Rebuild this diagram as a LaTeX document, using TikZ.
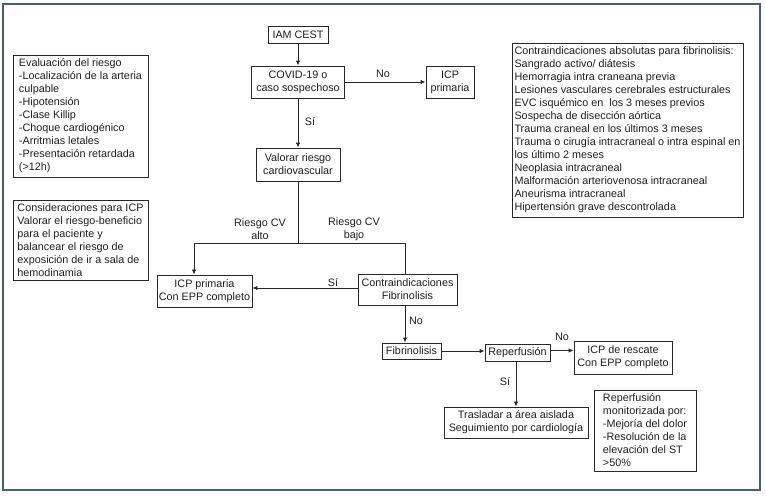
\documentclass[tikz,border=0pt]{standalone}
\usepackage{fontspec}
\setmainfont{Liberation Sans}
\usetikzlibrary{arrows.meta,calc}
\definecolor{framec}{RGB}{70,98,98}
\definecolor{linec}{RGB}{40,40,40}
\definecolor{txtc}{RGB}{30,30,30}
\begin{document}
\begin{tikzpicture}[x=1pt,y=-1pt,
  box/.style={draw=linec,line width=0.9pt,inner sep=0pt,text=txtc,font=\fontsize{10.8}{13}\selectfont,align=center},
  lbl/.style={text=txtc,font=\fontsize{10.8}{13}\selectfont,inner sep=0pt,align=center},
  arr/.style={draw=linec,line width=0.9pt,-{Latex[length=5pt,width=4.5pt]}},
  ln/.style={draw=linec,line width=0.9pt}]
\useasboundingbox (0,0) rectangle (766,496);
\draw[framec,line width=1.6pt] (3,4) rectangle (760,490);

\node[box,minimum width=60pt,minimum height=17pt] (iam) at (298,34.5) {IAM CEST};
\node[box,minimum width=93pt,minimum height=32pt] (covid) at (298,82) {COVID-19 o\\caso sospechoso};
\node[box,minimum width=48pt,minimum height=32pt] (icp1) at (450,82) {ICP\\primaria};
\node[box,minimum width=84pt,minimum height=33pt] (valorar) at (298,164.5) {Valorar riesgo\\cardiovascular};
\node[box,minimum width=95pt,minimum height=32pt] (icp2) at (204.5,291) {ICP primaria\\Con EPP completo};
\node[box,minimum width=99pt,minimum height=31pt] (contra) at (407.5,289.5) {Contraindicaciones\\Fibrinolisis};
\node[box,minimum width=59pt,minimum height=16pt] (fib) at (411.5,351) {Fibrinolisis};
\node[box,minimum width=65pt,minimum height=17pt] (rep) at (517.5,352.5) {Reperfusión};
\node[box,minimum width=98pt,minimum height=33pt] (resc) at (623,357.5) {ICP de rescate\\Con EPP completo};
\node[box,minimum width=144pt,minimum height=31pt] (tras) at (516,422.5) {Trasladar a área aislada\\Seguimiento por cardiología};
\node[box,align=left,minimum width=102pt,minimum height=81pt] (monit) at (645,430.5) {Reperfusión\\monitorizada por:\\-Mejoría del dolor\\-Resolución de la\\elevación del ST\\>50\%};
\node[box,align=left,minimum width=231pt,minimum height=174pt] (cabs) at (627.5,130) {Contraindicaciones absolutas para fibrinolisis:\\Sangrado activo/ diátesis\\Hemorragia intra craneana previa\\Lesiones vasculares cerebrales estructurales\\EVC isquémico en\ \ los 3 meses previos\\Sospecha de disección aórtica\\Trauma craneal en los últimos 3 meses\\Trauma o cirugía intracraneal o intra espinal en\\los último 2 meses\\Neoplasia intracraneal\\Malformación arteriovenosa intracraneal\\Aneurisma intracraneal\\Hipertensión grave descontrolada};
\node[box,align=left,minimum width=135pt,minimum height=122pt] (eval) at (80.5,116) {Evaluación del riesgo\\-Localización de la arteria\\culpable\\-Hipotensión\\-Clase Killip\\-Choque cardiogénico\\-Arritmias letales\\-Presentación retardada\\(>12h)};
\node[box,align=left,minimum width=135pt,minimum height=80pt] (consid) at (80.5,240) {Consideraciones para ICP\\Valorar el riesgo-beneficio\\para el paciente y\\balancear el riesgo de\\exposición de ir a sala de\\hemodinamia};

\coordinate (j) at (298,243);
\draw[arr] (iam) -- (covid);
\draw[arr] (covid) -- (icp1);
\draw[arr] (covid) -- (valorar);
\draw[ln] (valorar) -- (j);
\draw[arr] (j) -| ([xshift=-10.5pt]icp2.north);
\draw[ln] (j) -| ([xshift=-2.5pt]contra.north);
\draw[arr] ([yshift=1.5pt]contra.west) -- ([yshift=1.5pt]contra.west -| icp2.east);
\draw[arr] ([xshift=-2.5pt]contra.south) -- ([xshift=-2.5pt]contra.south |- fib.north);
\draw[arr] (fib.east) -- (fib.east -| rep.west);
\draw[arr] ([yshift=2pt]rep.east) -- ([yshift=2pt]rep.east -| resc.west);
\draw[arr] ([xshift=-1.5pt]rep.south) -- ([xshift=-1.5pt]rep.south |- tras.north);

\node[lbl] (l1) at (383,74) {No};
\node[lbl] (l2) at (310,122) {Sí};
\node[lbl] (l3) at (260,229.5) {Riesgo CV\\alto};
\node[lbl] (l4) at (354,229.5) {Riesgo CV\\bajo};
\node[lbl] (l5) at (333,283) {Sí};
\node[lbl] (l6) at (416,321) {No};
\node[lbl] (l7) at (562,337) {No};
\node[lbl] (l8) at (505,382) {Sí};
\end{tikzpicture}
\end{document}
